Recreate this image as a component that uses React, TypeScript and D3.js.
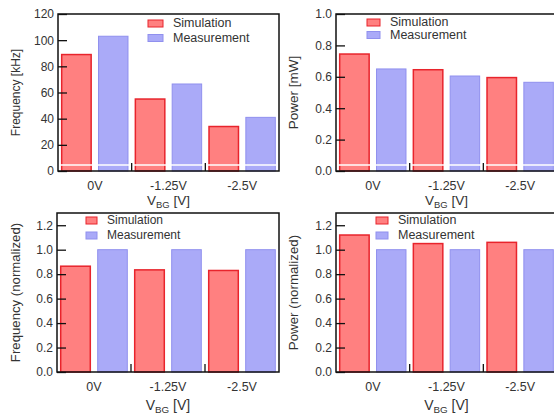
import React, { useEffect, useRef } from "react";
import * as d3 from "d3";

const categories = ["0V", "-1.25V", "-2.5V"];
const seriesNames = ["Simulation", "Measurement"];

const freqSim = [89, 55, 34];
const freqMeas = [103, 66.5, 41];
const powerSim = [0.745, 0.645, 0.595];
const powerMeas = [0.65, 0.605, 0.565];
const freqNormSim = [0.865, 0.835, 0.83];
const freqNormMeas = [1.0, 1.0, 1.0];
const powerNormSim = [1.12, 1.05, 1.06];
const powerNormMeas = [1.0, 1.0, 1.0];

const freqTicks = [0, 20, 40, 60, 80, 100, 120];
const powerTicks = [0, 0.2, 0.4, 0.6, 0.8, 1.0];
const normTicks = [0, 0.2, 0.4, 0.6, 0.8, 1.0, 1.2];

const colors = {
  simFill: "#ff8080",
  simStroke: "#e8242c",
  measFill: "#aaaaf8",
  measStroke: "#9090ee",
  text: "#333",
};

const font = "Arial, 'Liberation Sans', sans-serif";

const panels = [
  {
    sim: freqSim, meas: freqMeas, max: 120, ticks: freqTicks, fmt: d3.format("d"),
    box: { left: 58, top: 14, right: 279, bottom: 171 },
    yLabel: "Frequency [kHz]", yLabelSize: 12, yLabelX: 20,
    legend: { x: 148, y: 27, dy: 14.5, sw: 15, size: 12.5 },
    xTitleSize: 13.5, xTitleY: 205, artifact: true,
  },
  {
    sim: powerSim, meas: powerMeas, max: 1.0, ticks: powerTicks, fmt: d3.format(".1f"),
    box: { left: 336, top: 14, right: 557, bottom: 171 },
    yLabel: "Power [mW]", yLabelSize: 13.5, yLabelX: 298,
    legend: { x: 367, y: 26, dy: 12.5, sw: 13, size: 12.5 },
    xTitleSize: 13.5, xTitleY: 205, artifact: true,
  },
  {
    sim: freqNormSim, meas: freqNormMeas, max: 1.3, ticks: normTicks, fmt: d3.format(".1f"),
    box: { left: 57, top: 213, right: 279, bottom: 372 },
    yLabel: "Frequency (normalized)", yLabelSize: 13.2, yLabelX: 20,
    legend: { x: 86, y: 224, dy: 15, sw: 11, size: 12 },
    xTitleSize: 14, xTitleY: 410, artifact: false,
  },
  {
    sim: powerNormSim, meas: powerNormMeas, max: 1.3, ticks: normTicks, fmt: d3.format(".1f"),
    box: { left: 336, top: 213, right: 557, bottom: 372 },
    yLabel: "Power (normalized)", yLabelSize: 13.3, yLabelX: 298,
    legend: { x: 376, y: 224, dy: 15, sw: 12, size: 12.5 },
    xTitleSize: 14, xTitleY: 410, artifact: false,
  },
];

const drawPanel = (svg, p) => {
  const { left, top, right, bottom } = p.box;
  const g = svg.append("g").attr("font-family", font);

  const x = d3.scaleBand().domain(categories).range([left, right]);
  const xs = d3
    .scaleBand()
    .domain(["sim", "meas"])
    .range([0, x.bandwidth()])
    .paddingInner(0.2)
    .paddingOuter(0.1);
  const y = d3.scaleLinear().domain([0, p.max]).range([bottom, top]);

  // bars
  const rows = categories.map((c, i) => ({ c, sim: p.sim[i], meas: p.meas[i] }));
  g.selectAll(".sim")
    .data(rows)
    .join("rect")
    .attr("x", (d) => x(d.c) + xs("sim"))
    .attr("y", (d) => y(d.sim))
    .attr("width", xs.bandwidth())
    .attr("height", (d) => bottom - y(d.sim))
    .attr("fill", colors.simFill)
    .attr("stroke", colors.simStroke)
    .attr("stroke-width", 1.5);
  g.selectAll(".meas")
    .data(rows)
    .join("rect")
    .attr("x", (d) => x(d.c) + xs("meas"))
    .attr("y", (d) => y(d.meas))
    .attr("width", xs.bandwidth())
    .attr("height", (d) => bottom - y(d.meas))
    .attr("fill", colors.measFill)
    .attr("stroke", colors.measStroke)
    .attr("stroke-width", 1);

  // white scan line across the top plots
  if (p.artifact) {
    g.append("line")
      .attr("x1", left + 1)
      .attr("x2", right)
      .attr("y1", bottom - 6)
      .attr("y2", bottom - 6)
      .attr("stroke", "#fff")
      .attr("stroke-width", 1.5);
  }

  // y axis (inward ticks)
  const yAxis = g
    .append("g")
    .attr("transform", `translate(${left},0)`)
    .call(
      d3.axisLeft(y).tickValues(p.ticks).tickFormat(p.fmt).tickSizeInner(-9).tickSizeOuter(0).tickPadding(4)
    );
  yAxis.select(".domain").remove();
  yAxis.selectAll(".tick line").attr("stroke", "#111").attr("stroke-width", 1.3);
  yAxis.selectAll(".tick text").attr("font-size", 12).attr("font-family", font).attr("fill", colors.text);

  // x axis labels
  const xAxis = g
    .append("g")
    .attr("transform", `translate(0,${bottom})`)
    .call(d3.axisBottom(x).tickSize(0).tickPadding(10));
  xAxis.select(".domain").remove();
  xAxis.selectAll(".tick text").attr("font-size", 12.5).attr("font-family", font).attr("fill", colors.text);

  // category separator ticks
  g.selectAll(".sep")
    .data(categories.slice(1))
    .join("line")
    .attr("x1", (d) => x(d))
    .attr("x2", (d) => x(d))
    .attr("y1", bottom)
    .attr("y2", bottom - 8)
    .attr("stroke", "#111")
    .attr("stroke-width", 1.3);

  // frame
  g.append("rect")
    .attr("x", left)
    .attr("y", top)
    .attr("width", right - left)
    .attr("height", bottom - top)
    .attr("fill", "none")
    .attr("stroke", "#111")
    .attr("stroke-width", 1.5);

  // x title
  const xt = g
    .append("text")
    .attr("x", (left + right) / 2)
    .attr("y", p.xTitleY)
    .attr("text-anchor", "middle")
    .attr("font-size", p.xTitleSize)
    .attr("fill", colors.text);
  xt.append("tspan").text("V");
  xt.append("tspan").attr("font-size", p.xTitleSize * 0.7).attr("dy", 3).text("BG");
  xt.append("tspan").attr("dy", -3).text(" [V]");

  // y title
  g.append("text")
    .attr("transform", `translate(${p.yLabelX},${(top + bottom) / 2}) rotate(-90)`)
    .attr("text-anchor", "middle")
    .attr("font-size", p.yLabelSize)
    .attr("fill", colors.text)
    .text(p.yLabel);

  // legend
  const L = p.legend;
  seriesNames.forEach((name, i) => {
    const by = L.y + i * L.dy;
    g.append("rect")
      .attr("x", L.x)
      .attr("y", by - 7)
      .attr("width", L.sw)
      .attr("height", 7)
      .attr("fill", i === 0 ? colors.simFill : colors.measFill)
      .attr("stroke", i === 0 ? colors.simStroke : colors.measStroke)
      .attr("stroke-width", 1);
    g.append("text")
      .attr("x", L.x + L.sw + 10)
      .attr("y", by)
      .attr("font-size", L.size)
      .attr("fill", colors.text)
      .text(name);
  });
};

const App = () => {
  const svgRef = useRef();

  useEffect(() => {
    const svg = d3.select(svgRef.current);
    svg.selectAll("*").remove();
    panels.forEach((p) => drawPanel(svg, p));
  }, []);

  return (
    <svg
      ref={svgRef}
      width="554"
      height="416"
      style={{ position: "absolute", left: 0, top: 0, background: "#fff" }}
    ></svg>
  );
};

export default App;
